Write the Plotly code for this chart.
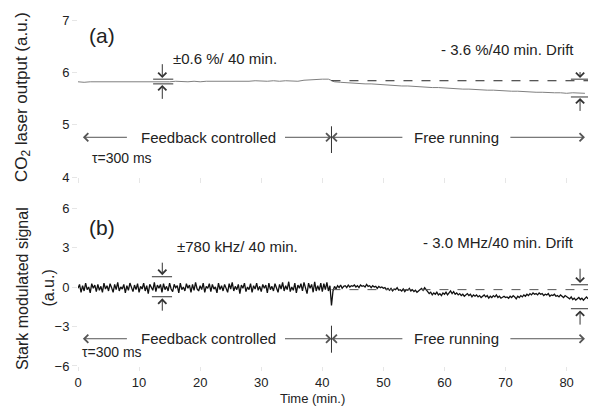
import numpy as np
import plotly.graph_objects as go
from plotly.subplots import make_subplots

# ---------------- data ----------------
# (a) CO2 laser output (a.u.), one sample per minute, t = 0..83 min
laser_time_step = 1.0
laser_output = [
    5.82, 5.81, 5.82, 5.82, 5.81, 5.82, 5.81, 5.81, 5.82, 5.82,
    5.81, 5.82, 5.82, 5.81, 5.82, 5.82, 5.83, 5.82, 5.82, 5.83,
    5.82, 5.83, 5.83, 5.82, 5.83, 5.83, 5.82, 5.83, 5.83, 5.84,
    5.83, 5.83, 5.84, 5.83, 5.84,
    5.84, 5.83, 5.85, 5.86, 5.86, 5.87, 5.87,
    5.82, 5.81, 5.80, 5.80, 5.79, 5.78, 5.78, 5.77, 5.76, 5.76,
    5.75, 5.74, 5.74, 5.73, 5.72, 5.72, 5.71, 5.71, 5.70, 5.70,
    5.69, 5.68, 5.68, 5.67, 5.67, 5.66, 5.66, 5.65, 5.65, 5.64,
    5.64, 5.63, 5.63, 5.62, 5.62, 5.61, 5.61, 5.61, 5.60, 5.61,
    5.60, 5.60,
]

# (b) Stark modulated signal (a.u.), sampled every 0.25 min
stark_time_step = 0.25
stark_feedback = [  # t = 0 .. 41.5 min
    -0.1, 0.2, -0.4, 0.1, -0.3, 0.3, -0.2, 0.0, -0.45, 0.25, -0.1, 0.15, -0.35, 0.2, -0.25, 0.05, -0.4, 0.3, -0.15, 0.1,
    -0.3, 0.25, -0.05, -0.4, 0.2, -0.2, 0.35, -0.3, 0.0, -0.15, 0.2, -0.45, 0.1, -0.25, 0.3, -0.1, -0.35, 0.15, -0.2, 0.25,
    -0.4, 0.05, -0.15, 0.3, -0.3, 0.1, -0.5, 0.2, -0.05, -0.25, 0.35, -0.35, 0.15, -0.1, 0.2, -0.4, 0.25, -0.2, 0.05, -0.3,
    0.3, -0.15, -0.35, 0.2, -0.05, 0.1, -0.45, 0.3, -0.2, 0.0, -0.3, 0.25, -0.1, 0.15, -0.4, 0.2, -0.25, 0.35, -0.15, -0.3,
    0.1, -0.2, 0.3, -0.4, 0.05, -0.1, 0.25, -0.35, 0.2, -0.15, 0.0, -0.45, 0.3, -0.2, 0.1, -0.3, 0.2, -0.05, -0.4, 0.25,
    -0.15, 0.35, -0.3, 0.05, -0.2, 0.2, -0.5, 0.15, -0.1, 0.3, -0.35, 0.0, -0.2, 0.25, -0.4, 0.1, -0.15, 0.3, -0.25, 0.05,
    -0.35, 0.2, -0.1, 0.15, -0.45, 0.3, -0.2, 0.05, -0.3, 0.25, -0.05, -0.4, 0.2, -0.15, 0.35, -0.3, 0.1, -0.2, 0.4, -0.35,
    0.0, -0.25, 0.3, -0.45, 0.15, -0.1, 0.25, -0.3, 0.35, -0.2, -0.5, 0.3, -0.1, 0.2, -0.4, 0.4, -0.3, 0.1, -0.25, 0.3,
    -0.35, 0.25, -0.2, 0.35, -0.3, 0.1, -1.4,
]
stark_free = [  # t = 41.75 .. 83.5 min
    -0.3, 0.05, -0.15, 0.1, -0.05, 0.15, -0.1, 0.05, 0.1, -0.05, 0.15, 0.0, 0.1, 0.05,
    0.15, 0.0, 0.1, -0.05, 0.15, 0.05, 0.1, 0.0, 0.2, 0.05, 0.1, -0.05, 0.1, 0.0, 0.05, -0.1, 0.05, -0.05, 0.0, -0.1,
    -0.05, -0.2, -0.1, -0.25, -0.1, -0.3, -0.15, -0.2, -0.05, -0.25, -0.2, -0.3, -0.15, -0.35, -0.2, -0.25, -0.1, -0.3, -0.2, -0.35,
    -0.25, -0.4, -0.3, -0.2, -0.1, -0.25, -0.05, -0.2, -0.35, -0.5, -0.4, -0.6, -0.45, -0.55, -0.4, -0.6, -0.5, -0.65, -0.45, -0.55,
    -0.4, -0.6, -0.45, -0.3, -0.5, -0.35, -0.55, -0.45, -0.6, -0.5, -0.65, -0.55, -0.7, -0.6, -0.5, -0.65, -0.55, -0.75, -0.6, -0.7,
    -0.6, -0.75, -0.65, -0.8, -0.7, -0.6, -0.75, -0.65, -0.85, -0.7, -0.8, -0.65, -0.75, -0.6, -0.8, -0.7, -0.85, -0.75, -0.7, -0.8,
    -0.75, -0.85, -0.7, -0.8, -0.65, -0.75, -0.9, -0.7, -0.8, -0.65, -0.75, -0.6, -0.7, -0.55, -0.65, -0.5, -0.6, -0.45, -0.55, -0.5,
    -0.6, -0.45, -0.55, -0.5, -0.65, -0.55, -0.6, -0.5, -0.7, -0.6, -0.65, -0.55, -0.7, -0.65, -0.75, -0.6, -0.7, -0.8, -0.65, -0.75,
    -0.8, -0.9, -0.75, -0.95, -0.85, -1.0, -0.9, -0.8, -0.95, -0.85, -1.0, -0.9, -0.75, -0.9,
]
switch_time = 41.5          # feedback off (min)
laser_ref_level = 5.84      # dashed reference level, panel (a)
stark_ref_level = -0.2      # dashed reference level, panel (b)

x_ticks = [0, 10, 20, 30, 40, 50, 60, 70, 80]
y_ticks_a = [4, 5, 6, 7]
y_ticks_b = [-6, -3, 0, 3, 6]

# ---------------- figure ----------------
laser_t = np.arange(len(laser_output)) * laser_time_step
stark_y = stark_feedback + stark_free
stark_t = np.arange(len(stark_y)) * stark_time_step

FONT = "Liberation Sans, Arial, sans-serif"
TXT = "#222222"

fig = make_subplots(rows=2, cols=1, shared_xaxes=True)
fig.add_trace(go.Scatter(x=laser_t, y=laser_output, mode="lines",
                         line=dict(color="#808080", width=1), showlegend=False), row=1, col=1)
fig.add_trace(go.Scatter(x=stark_t, y=stark_y, mode="lines",
                         line=dict(color="#111111", width=1.3), showlegend=False), row=2, col=1)

axis_common = dict(showline=False, showgrid=False, zeroline=False, ticks="outside",
                   ticklen=5, tickcolor="#e6e6e6", tickfont=dict(size=13, color=TXT, family=FONT))
fig.update_xaxes(range=[0, 83.5], tickvals=x_ticks, **axis_common)
fig.update_xaxes(ticklen=4, row=2, col=1)
fig.update_xaxes(showticklabels=False, row=1, col=1)
fig.update_yaxes(**axis_common)
fig.update_layout(
    yaxis=dict(domain=[0.546, 1.0], range=[4, 7], tickvals=y_ticks_a),
    yaxis2=dict(domain=[0.0, 0.4566], range=[-6, 6], tickvals=y_ticks_b),
)

shapes = []
ann = []


def hline(x0, x1, y, xr, yr, dash="solid", color="#333333", w=1):
    shapes.append(dict(type="line", xref=xr, yref=yr, x0=x0, x1=x1, y0=y, y1=y,
                       line=dict(color=color, width=w, dash=dash)))


def vline(x, y0, y1, xr, yr, color="#333333", w=1):
    shapes.append(dict(type="line", xref=xr, yref=yr, x0=x, x1=x, y0=y0, y1=y1,
                       line=dict(color=color, width=w)))


def arrow(x0, y0, x1, y1, xr, yr, color="#333333"):
    ann.append(dict(x=x1, y=y1, ax=x0, ay=y0, xref=xr, yref=yr, axref=xr, ayref=yr,
                    text=" ", showarrow=True, arrowhead=4, arrowsize=1.6, arrowwidth=1,
                    arrowcolor=color, font=dict(size=10)))


def text(x, y, s, xr, yr, size=15, xanchor="left", angle=0):
    ann.append(dict(x=x, y=y, xref=xr, yref=yr, text=s, showarrow=False, xanchor=xanchor,
                    yanchor="middle", textangle=angle,
                    font=dict(size=size, color=TXT, family=FONT)))


# ----- panel (a) -----
xa, ya = "x", "y"
hline(switch_time, 83.5, laser_ref_level, xa, ya, dash="dash", color="#222222")
hline(12.3, 15.6, 5.87, xa, ya)
hline(12.3, 15.6, 5.78, xa, ya)
arrow(13.8, 6.29, 13.8, 5.89, xa, ya)
arrow(13.8, 5.36, 13.8, 5.76, xa, ya)
hline(80.7, 83.6, 5.87, xa, ya)
hline(80.7, 83.6, 5.53, xa, ya)
arrow(82.2, 6.14, 82.2, 5.89, xa, ya)
arrow(82.2, 5.13, 82.2, 5.51, xa, ya)
text(1.5, 6.71, "(a)", xa, ya, size=21)
text(15.3, 6.27, "±0.6 %/ 40 min.", xa, ya, size=15)
text(81.6, 6.43, "- 3.6 %/40 min. Drift", xa, ya, size=15, xanchor="right")
ya_arrow = 4.76
arrow(8.5, ya_arrow, 0.8, ya_arrow, xa, ya, color="#555555")
arrow(33.4, ya_arrow, switch_time, ya_arrow, xa, ya, color="#555555")
arrow(53.6, ya_arrow, switch_time, ya_arrow, xa, ya, color="#555555")
arrow(70.3, ya_arrow, 83.0, ya_arrow, xa, ya, color="#555555")
vline(switch_time, 4.46, 4.97, xa, ya)
text(21.3, ya_arrow, "Feedback controlled", xa, ya, size=15, xanchor="center")
text(62.0, ya_arrow, "Free running", xa, ya, size=15, xanchor="center")
text(2.0, 4.37, "τ=300 ms", xa, ya, size=14)

# ----- panel (b) -----
xb, yb = "x2", "y2"
hline(switch_time, 83.5, stark_ref_level, xb, yb, dash="dash", color="#555555")
hline(12.1, 15.4, 0.78, xb, yb)
hline(12.1, 15.4, -0.74, xb, yb)
arrow(13.8, 2.38, 13.8, 0.9, xb, yb)
arrow(13.8, -2.33, 13.8, -0.86, xb, yb)
hline(80.7, 83.6, 0.17, xb, yb)
hline(80.7, 83.6, -1.65, xb, yb)
arrow(82.2, 1.92, 82.2, 0.3, xb, yb)
arrow(82.2, -3.39, 82.2, -1.78, xb, yb)
text(1.5, 4.5, "(b)", xb, yb, size=21)
text(15.9, 3.06, "±780 kHz/ 40 min.", xb, yb, size=15)
text(81.6, 3.36, "- 3.0 MHz/40 min. Drift", xb, yb, size=15, xanchor="right")
yb_arrow = -3.93
arrow(8.5, yb_arrow, 0.8, yb_arrow, xb, yb, color="#555555")
arrow(33.4, yb_arrow, switch_time, yb_arrow, xb, yb, color="#555555")
arrow(53.6, yb_arrow, switch_time, yb_arrow, xb, yb, color="#555555")
arrow(70.3, yb_arrow, 83.0, yb_arrow, xb, yb, color="#555555")
vline(switch_time, -4.99, -2.94, xb, yb)
text(21.3, yb_arrow, "Feedback controlled", xb, yb, size=15, xanchor="center")
text(62.0, yb_arrow, "Free running", xb, yb, size=15, xanchor="center")
text(0.3, -4.95, "τ=300 ms", xb, yb, size=14)

# axis titles
text(-0.108, 0.777, "CO<sub>2</sub> laser output (a.u.)", "paper", "paper", size=17,
     xanchor="center", angle=-90)
text(-0.11, 0.225, "Stark modulated signal", "paper", "paper", size=16,
     xanchor="center", angle=-90)
text(-0.058, 0.225, "(a.u.)", "paper", "paper", size=16, xanchor="center", angle=-90)
text(0.46, -0.0925, "Time (min.)", "paper", "paper", size=13, xanchor="center")

fig.update_layout(
    width=589, height=406,
    margin=dict(l=78, r=1, t=20, b=40),
    paper_bgcolor="white", plot_bgcolor="white",
    shapes=shapes, annotations=ann,
    font=dict(family=FONT, color=TXT),
)

fig.write_html("out.html", config={"displayModeBar": False},
               post_script="document.body.style.margin='0';document.body.style.padding='0';")
